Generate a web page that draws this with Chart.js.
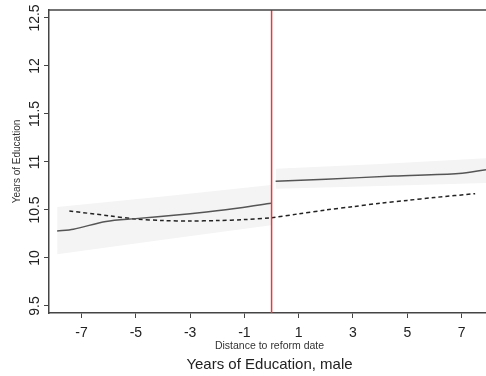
<!DOCTYPE html>
<html>
  <head>
    <meta charset="utf-8">
    <title>education</title>
    <script src="https://cdn.jsdelivr.net/npm/chart.js@4.4.0/dist/chart.umd.min.js"></script>
    <style media="screen">
      body { margin: 0; background: #ffffff; }
      #wrap { width: 486px; height: 376px; position: relative; }
    </style>
  </head>
  <body>
    <div id="wrap"><canvas id="myChart" width="486" height="376"></canvas></div>
  <script>
    // tick labels
    const xTicks = [-7, -5, -3, -1, 1, 3, 5, 7];
    const yTicks = [9.5, 10, 10.5, 11, 11.5, 12, 12.5];
    const reformX = 0;

    // fitted line before reform (solid) and its band
    const preX = [-7.9, -7.3, -6.1, -5, -3.6, -2.4, -1.2, -0.02];
    const preY = [10.28, 10.30, 10.38, 10.41, 10.445, 10.48, 10.52, 10.57];
    const preBandX = [-7.9, -4, -0.02];
    const preLo = [10.04, 10.19, 10.34];
    const preHi = [10.53, 10.64, 10.76];

    // fitted line after reform (solid) and its band
    const postX = [0.15, 2, 4.5, 6.9, 7.9];
    const postY = [10.80, 10.82, 10.854, 10.88, 10.92];
    const postBandX = [0.15, 4, 7.9];
    const postLo = [10.72, 10.75, 10.78];
    const postHi = [10.93, 10.98, 11.04];

    // dashed comparison line
    const dashX = [-7.45, -6, -5, -4, -3, -2, -1, 0, 1, 2, 3, 4, 5, 6, 7.5];
    const dashY = [10.49, 10.44, 10.406, 10.39, 10.385, 10.39, 10.40, 10.42, 10.46, 10.50, 10.535, 10.57, 10.60, 10.63, 10.67];

    function pts(xs, ys) {
      return xs.map(function(x, i) { return {x: x, y: ys[i]}; });
    }

    const bandColor = '#f4f4f4';
    const font = 'Liberation Sans, Arial, sans-serif';

    // extra drawing: rotated y labels, titles, top border, reform line
    const extras = {
      id: 'extras',
      afterDatasetsDraw: function(chart) {
        const ctx = chart.ctx;
        const a = chart.chartArea;
        const xs = chart.scales.x;
        const px = xs.getPixelForValue(reformX);
        ctx.save();
        ctx.strokeStyle = '#e8393c';
        ctx.lineWidth = 1.5;
        ctx.beginPath();
        ctx.moveTo(px, a.top);
        ctx.lineTo(px, a.bottom);
        ctx.stroke();
        ctx.restore();
      },
      afterDraw: function(chart) {
        const ctx = chart.ctx;
        const a = chart.chartArea;
        const ys = chart.scales.y;
        const cx = (a.left + a.right) / 2 + 2;
        ctx.save();
        ctx.strokeStyle = '#444';
        ctx.lineWidth = 1.5;
        ctx.beginPath();
        ctx.moveTo(a.left, a.top);
        ctx.lineTo(a.right, a.top);
        ctx.stroke();

        ctx.fillStyle = '#222';
        ctx.font = '14px ' + font;
        ctx.textAlign = 'center';
        ctx.textBaseline = 'middle';
        yTicks.forEach(function(v) {
          const py = ys.getPixelForValue(v);
          ctx.save();
          ctx.translate(35, py);
          ctx.rotate(-Math.PI / 2);
          ctx.fillText(String(v), 0, 0);
          ctx.restore();
        });

        ctx.fillStyle = '#333';
        ctx.font = '10px ' + font;
        ctx.save();
        ctx.translate(17, (a.top + a.bottom) / 2);
        ctx.rotate(-Math.PI / 2);
        ctx.fillText('Years of Education', 0, 0);
        ctx.restore();

        ctx.font = '10.5px ' + font;
        ctx.fillText('Distance to reform date', cx, a.bottom + 33);

        ctx.fillStyle = '#222';
        ctx.font = '15px ' + font;
        ctx.fillText('Years of Education, male', cx, a.bottom + 52);
        ctx.restore();
      }
    };

    const ctx = document.getElementById('myChart').getContext('2d');
    const myChart = new Chart(ctx, {
      type: 'line',
      data: {
        datasets: [
          { data: pts(preX, preY), order: 0, borderColor: '#555', borderWidth: 1.5, pointRadius: 0, tension: 0.3, fill: false },
          { data: pts(postX, postY), order: 0, borderColor: '#555', borderWidth: 1.5, pointRadius: 0, tension: 0.3, fill: false },
          { data: pts(dashX, dashY), order: 0, borderColor: '#222', borderWidth: 1.5, borderDash: [4, 3], pointRadius: 0, tension: 0.3, fill: false },
          { data: pts(preBandX, preLo), order: 1, borderWidth: 0, pointRadius: 0, fill: '+1', backgroundColor: bandColor },
          { data: pts(preBandX, preHi), order: 1, borderWidth: 0, pointRadius: 0, fill: false },
          { data: pts(postBandX, postLo), order: 1, borderWidth: 0, pointRadius: 0, fill: '+1', backgroundColor: bandColor },
          { data: pts(postBandX, postHi), order: 1, borderWidth: 0, pointRadius: 0, fill: false }
        ]
      },
      options: {
        responsive: false,
        devicePixelRatio: 1,
        animation: false,
        layout: { padding: { top: 10, right: 0, left: 0, bottom: 0 } },
        plugins: {
          legend: { display: false },
          tooltip: { enabled: false },
          title: { display: false }
        },
        scales: {
          x: {
            type: 'linear',
            min: -8.2,
            max: 7.9,
            afterBuildTicks: function(s) { s.ticks = xTicks.map(function(v) { return {value: v}; }); },
            afterFit: function(s) { s.height = 63; },
            grid: { drawOnChartArea: false, drawTicks: true, tickLength: 5, color: '#444' },
            border: { display: true, color: '#444', width: 1.5 },
            ticks: { color: '#222', font: { family: font, size: 14, lineHeight: 1 }, padding: 8, maxRotation: 0 }
          },
          y: {
            type: 'linear',
            min: 9.427,
            max: 12.583,
            afterBuildTicks: function(s) { s.ticks = yTicks.map(function(v) { return {value: v}; }); },
            afterFit: function(s) { s.width = 49; },
            grid: { drawOnChartArea: false, drawTicks: true, tickLength: 5, color: '#444' },
            border: { display: true, color: '#444', width: 1.5 },
            ticks: { display: false }
          }
        }
      },
      plugins: [extras]
    });
  </script>
  </body>
</html>
